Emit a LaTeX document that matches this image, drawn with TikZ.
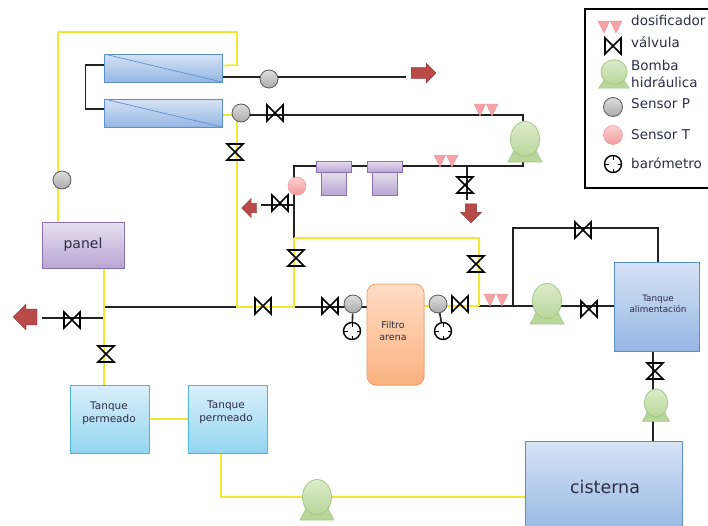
\documentclass[tikz,border=0pt]{standalone}
\usepackage{fontspec}
\setmainfont{DejaVu Sans}
\usetikzlibrary{backgrounds,shadows,shapes.geometric,shapes.arrows}

\definecolor{pipeblack}{HTML}{222222}
\definecolor{pipeyellow}{HTML}{F2E832}
\definecolor{inktext}{HTML}{2D2D45}
\definecolor{memtop}{HTML}{D6E3F5}
\definecolor{membot}{HTML}{95B7E3}
\definecolor{memline}{HTML}{5C8FCE}
\definecolor{purtop}{HTML}{E8E0EF}
\definecolor{purbot}{HTML}{B9A5D3}
\definecolor{purline}{HTML}{8A70B5}
\definecolor{cyantop}{HTML}{DAF0FA}
\definecolor{cyanbot}{HTML}{93D5F0}
\definecolor{cyanline}{HTML}{4FB5D0}
\definecolor{sandtop}{HTML}{FFDCC4}
\definecolor{sandbot}{HTML}{FBB27F}
\definecolor{sandline}{HTML}{F29B5F}
\definecolor{pumptop}{HTML}{DCEBC9}
\definecolor{pumpbot}{HTML}{B9D79A}
\definecolor{pumpline}{HTML}{A0C888}
\definecolor{greytop}{HTML}{DDDDDD}
\definecolor{greybot}{HTML}{ABABAB}
\definecolor{pinktop}{HTML}{FCD0D0}
\definecolor{pinkbot}{HTML}{F29A9A}
\definecolor{pinkline}{HTML}{E88A8F}
\definecolor{doserpink}{HTML}{F5A3A8}
\definecolor{flowred}{HTML}{B94A48}
\definecolor{flowline}{HTML}{95393A}

\tikzset{
  pipe/.style={pipeblack, line width=1.6pt},
  yellowpipe/.style={pipeyellow, line width=1.8pt},
  softshadow/.style={drop shadow={opacity=.3, shadow xshift=.5pt, shadow yshift=-1pt}},
  box/.style={rectangle, inner sep=0pt, softshadow, line width=.7pt},
  membrane/.style={box, minimum width=118pt, minimum height=28pt, top color=memtop, bottom color=membot,
    draw=memline, path picture={\draw[memline] (path picture bounding box.north west) -- (path picture bounding box.south east);}},
  purplebox/.style={box, top color=purtop, bottom color=purbot, draw=purline},
  tankcyan/.style={box, minimum width=79pt, minimum height=68pt, top color=cyantop, bottom color=cyanbot, draw=cyanline},
  tankblue/.style={box, top color=memtop, bottom color=membot, draw=memline},
  sensorp/.style={circle, inner sep=0pt, minimum size=18pt, top color=greytop, bottom color=greybot, draw=black!65, line width=.8pt},
  sensort/.style={circle, inner sep=0pt, minimum size=18pt, top color=pinktop, bottom color=pinkbot, draw=pinkline},
  barometer/.style={circle, inner sep=0pt, minimum size=17pt, fill=white, draw=black, line width=1.4pt,
    path picture={\draw[line width=1pt] (path picture bounding box.north) -- ++(0,-4pt)
      (path picture bounding box.south) -- ++(0,4pt) (path picture bounding box.east) -- ++(-4pt,0)
      (path picture bounding box.west) -- ++(4pt,0);}},
  valve/.style={rectangle, inner sep=0pt, minimum size=20pt,
    path picture={\draw[black, line width=1.7pt, shift={(path picture bounding box.center)}] (-8,-8) -- (8,8) -- (8,-8) -- (-8,8) -- cycle;}},
  valveup/.style={rectangle, inner sep=0pt, minimum size=20pt,
    path picture={\draw[black, line width=1.7pt, shift={(path picture bounding box.center)}] (-8,-8) -- (8,-8) -- (-8,8) -- (8,8) -- cycle;}},
  doser/.style={rectangle, inner sep=0pt, minimum width=25pt, minimum height=13pt,
    path picture={\filldraw[fill=doserpink, draw=pinkline, shift={(path picture bounding box.center)}] (-12,-6) -- (-.5,-6) -- (-6,6) -- cycle (.5,-6) -- (12,-6) -- (6,6) -- cycle;}},
  flowout/.style={single arrow, inner sep=4.5pt, single arrow head extend=4pt, fill=flowred, draw=flowline},
  pumpbody/.style={ellipse, inner sep=0pt, minimum width=29pt, minimum height=35pt, transform shape, top color=pumptop, bottom color=pumpbot, draw=pumpline, line width=.8pt},
  pumpfoot/.style={fill=pumpbot, draw=pumpline, line width=.6pt},
  smalltext/.style={font=\fontsize{9.5}{12.5}\selectfont, align=center, inner sep=0pt, text=inktext},
  legendtext/.style={font=\fontsize{13.5}{17}\selectfont, anchor=west, align=left, inner sep=0pt, text=inktext},
}

% bomba: nombre, centro
\newcommand{\pump}[3][]{
  \begin{scope}[shift={#3},#1]
    \filldraw[pumpfoot] (-9,8) -- (-17,23) -- (17,23) -- (9,8) -- cycle;
    \node[pumpbody] (#2) at (0,0) {};
  \end{scope}
}

\begin{document}
\begin{tikzpicture}[x=1pt,y=-1pt]
  \useasboundingbox (0,0) rectangle (708,525);

  % Membranas y panel
  \node[membrane] (membA) at (163,68) {};
  \node[membrane] (membB) at (163,113) {};
  \node[purplebox, minimum width=82pt, minimum height=46pt, font=\fontsize{14}{16}\selectfont, text=inktext] (panel) at (83,245) {panel};

  % Cartuchos
  \node[purplebox, minimum width=25pt, minimum height=24pt] (cartAbody) at (333.5,183) {};
  \node[purplebox, minimum width=35pt, minimum height=11pt] (cartAcap) at (333.5,166.5) {};
  \node[purplebox, minimum width=25pt, minimum height=24pt] (cartBbody) at (384.5,183) {};
  \node[purplebox, minimum width=35pt, minimum height=11pt] (cartBcap) at (384.5,166.5) {};

  % Filtro y tanques
  \node[box, rounded corners=9pt, minimum width=57pt, minimum height=101pt, top color=sandtop, bottom color=sandbot, draw=sandline] (filter) at (395.5,334.5) {};
  \node[smalltext] (filterText) at (393,331) {Filtro\\arena};
  \node[tankcyan] (tankA) at (109.5,419) {};
  \node[tankcyan] (tankB) at (227.5,419) {};
  \node[smalltext, font=\fontsize{10.5}{13}\selectfont] (tankAText) at (109,413) {Tanque\\permeado};
  \node[smalltext, font=\fontsize{10.5}{13}\selectfont] (tankBText) at (226,412) {Tanque\\permeado};
  \node[tankblue, minimum width=85pt, minimum height=89pt] (tankFeed) at (656.5,306.5) {};
  \node[smalltext, font=\fontsize{8.8}{11}\selectfont] (tankFeedText) at (658,303.5) {Tanque\\alimentación};
  \node[tankblue, minimum width=157pt, minimum height=92pt] (cistern) at (603.5,487) {};
  \node[legendtext, anchor=center, font=\fontsize{17.5}{20}\selectfont] (cisternText) at (605,487) {cisterna};

  % Sensores y barómetros
  \node[sensorp] (sensA) at (269,79) {};
  \node[sensorp] (sensB) at (241,113) {};
  \node[sensorp] (sensC) at (353,304) {};
  \node[sensorp] (sensD) at (438,304) {};
  \node[sensorp] (sensE) at (62,180) {};
  \node[sensort] (sensT) at (297,186) {};
  \node[barometer] (baroA) at (352,331) {};
  \node[barometer] (baroB) at (443,331) {};

  % Válvulas
  \node[valve] (valA) at (275,113) {};
  \node[valveup] (valB) at (235,152) {};
  \node[valve] (valC) at (280,203) {};
  \node[valveup] (valD) at (465,185) {};
  \node[valveup] (valE) at (296,258) {};
  \node[valveup] (valF) at (476,264) {};
  \node[valve] (valG) at (263,306) {};
  \node[valve] (valH) at (330,306) {};
  \node[valve] (valI) at (460,304) {};
  \node[valve] (valJ) at (589,309) {};
  \node[valve] (valK) at (583,230) {};
  \node[valveup] (valL) at (655,371) {};
  \node[valve] (valM) at (72,320) {};
  \node[valveup] (valN) at (106,354) {};

  % Dosificadores
  \node[doser] (doseA) at (486,110) {};
  \node[doser] (doseB) at (446,161) {};
  \node[doser] (doseC) at (496,300) {};

  % Bombas
  \pump{pumpA}{(525,139)}
  \pump{pumpB}{(547,301)}
  \pump[scale=.8]{pumpC}{(656,403)}
  \pump{pumpD}{(317,497)}

  % Salidas
  \node[flowout, minimum height=25pt, minimum width=20pt] (outA) at (421,73) {};
  \node[flowout, inner sep=3.5pt, minimum height=15pt, minimum width=19pt, shape border rotate=180] (outB) at (251.5,208) {};
  \node[flowout, minimum height=19pt, minimum width=21pt, shape border rotate=270] (outC) at (471,210.5) {};
  \node[flowout, inner sep=6pt, minimum height=24pt, minimum width=26pt, shape border rotate=180] (outD) at (29,317) {};

  % Puntos de las tuberías
  \coordinate (endA) at (406,77);
  \coordinate (topR) at (523,115);
  \coordinate (midR) at (523,166);
  \coordinate (midL) at (294,166);
  \coordinate (endB) at (261,205);
  \coordinate (tapB) at (294,205);
  \coordinate (tapD) at (467,166);
  \coordinate (endD) at (467,200);
  \coordinate (joinE) at (294,238);
  \coordinate (joinF) at (479,238);
  \coordinate (joinG) at (479,306);
  \coordinate (mainA) at (105,307);
  \coordinate (mainB) at (237,307);
  \coordinate (mainC) at (295,307);
  \coordinate (loopA) at (513,306);
  \coordinate (loopB) at (513,228);
  \coordinate (loopC) at (658,228);
  \coordinate (yelA) at (58,32);
  \coordinate (yelB) at (237,32);
  \coordinate (yelC) at (237,115);
  \coordinate (tapE) at (104,318);
  \coordinate (endE) at (42,318);

  \begin{scope}[on background layer]
    % Tuberías negras
    \draw[pipe] ([yshift=3pt]membA.west) -- ++(-18,0) |- ([yshift=4pt]membB.west);
    \draw[pipe] ([yshift=-9pt]membA.east) -- (endA);
    \draw[pipe] (sensB |- topR) -- (topR) -- (pumpA.north -| topR);
    \draw[pipe] (pumpA.south -| midR) -- (midR) -- (midL) -- (joinE);
    \draw[pipe] (endB) -- (tapB);
    \draw[pipe] (tapD) -- (endD);
    \draw[pipe] (mainA) -- (mainB);
    \draw[pipe] (mainC) -- (mainC -| filter.west);
    \draw[pipe] (sensC) -- (baroA);
    \draw[pipe] (sensD) -- (baroB);
    \draw[pipe] (joinG) -- (joinG -| tankFeed.west);
    \draw[pipe, line width=2.6pt] (pumpB.east |- joinG) -- (valJ |- joinG);
    \draw[pipe] (loopA) -- (loopB) -- (loopC) -- (loopC |- tankFeed.north);
    \draw[pipe] (endE) -- (tapE);
    \draw[pipe] ([xshift=-3.5pt]tankFeed.south) -- ([xshift=-3.5pt]tankFeed.south |- cistern.north);

    % Tuberías amarillas
    \draw[yellowpipe] (panel.north -| yelA) -- (yelA) -- (yelB) -- (yelB |- membA.north) -- ++(0,11.5) -- ([yshift=2.5pt]membA.east);
    \draw[yellowpipe] ([yshift=-2pt]membB.east) -- (yelC) -- (sensB |- yelC);
    \draw[yellowpipe] (yelC) -- (mainB) -- (mainC);
    \draw[yellowpipe] (joinE) -- (joinF) -- (joinG);
    \draw[yellowpipe] (joinE) -- (joinE |- mainC);
    \draw[yellowpipe] (filter.east |- joinG) -- (joinG);
    \draw[yellowpipe] (panel.south -| tapE) -- (tankA.north -| tapE);
    \draw[yellowpipe] (tankA.east) -- (tankB.west);
    \draw[yellowpipe] ([xshift=-6.5pt]tankB.south) |- (pumpD.west);
    \draw[yellowpipe] (pumpD.east) -- (pumpD.east -| cistern.west);
  \end{scope}

  % Leyenda
  \draw[black, line width=1.6pt] (585,9) rectangle (712,188);
  \node[doser] (legDose) at (610,27) {};
  \node[valve] (legValve) at (613,46) {};
  \pump[xscale=.9,yscale=.7]{legPump}{(614,72)}
  \node[sensorp, minimum size=19pt] (legSensP) at (613,107) {};
  \node[sensort, minimum size=19pt] (legSensT) at (613,135) {};
  \node[barometer] (legBaro) at (613,164) {};
  \node[legendtext] (legDoseText) at (631,20) {dosificador};
  \node[legendtext] (legValveText) at (631,42) {válvula};
  \node[legendtext] (legPumpText) at (631,73.5) {Bomba\\hidráulica};
  \node[legendtext] (legSensPText) at (631,104) {Sensor P};
  \node[legendtext] (legSensTText) at (631,135) {Sensor T};
  \node[legendtext] (legBaroText) at (631,163) {barómetro};
\end{tikzpicture}
\end{document}
